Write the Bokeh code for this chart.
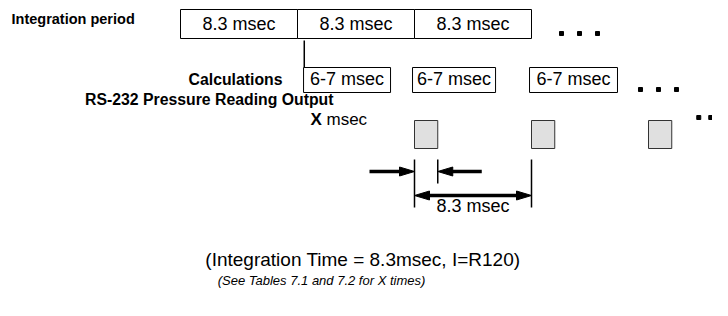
from bokeh.plotting import figure
from bokeh.models import Range1d
from bokeh.core.properties import value
from bokeh.embed import file_html
from bokeh.resources import INLINE

# ---- data (msec) ----
period_ms = 8.3
period_start = [0.0, 8.3, 16.6]
period_labels = ["8.3 msec", "8.3 msec", "8.3 msec"]
calc_start = [8.73, 16.46, 24.76]
calc_end = [14.9, 22.35, 31.0]
calc_labels = ["6-7 msec", "6-7 msec", "6-7 msec"]
out_start = [16.6, 24.9, 33.2]
x_width_ms = 1.65
dim_label = "8.3 msec"
row_labels = ["Integration period", "Calculations", "RS-232 Pressure Reading Output"]
title_text = "(Integration Time = 8.3msec,  I=R120)"
note_text = "(See Tables 7.1 and 7.2 for X times)"

# ---- layout ----
PX = 117 / 8.3            # pixels per msec
ORIGIN = 180              # pixel of t = 0
def ms(px):
    return (px - ORIGIN) / PX

FONT = value("Liberation Sans")
p = figure(width=712, height=300, x_range=Range1d(ms(0), ms(712)), y_range=Range1d(300, 0),
           output_backend="svg", toolbar_location=None, min_border=0,
           x_axis_type=None, y_axis_type=None)
p.grid.visible = False
p.outline_line_color = None
p.background_fill_color = "white"

# integration period boxes
p.quad(left=period_start, right=[s + period_ms for s in period_start], top=9, bottom=38,
       fill_color="white", line_color="black", line_width=1)
p.text(x=[s + period_ms / 2 for s in period_start], y=23, text=period_labels,
       text_font=FONT, text_font_size="18px", text_align="center", text_baseline="middle")

# row labels
p.text(x=[ms(11)], y=[18], text=[row_labels[0]], text_font=FONT, text_font_size="14.5px",
       text_font_style="bold", text_align="left", text_baseline="middle")
p.text(x=[ms(282)], y=[79], text=[row_labels[1]], text_font=FONT, text_font_size="15.8px",
       text_font_style="bold", text_align="right", text_baseline="middle")
p.text(x=[ms(333)], y=[99], text=[row_labels[2]], text_font=FONT, text_font_size="15.8px",
       text_font_style="bold", text_align="right", text_baseline="middle")

# connector line
p.segment(x0=[calc_start[0] + 0.05], y0=[40], x1=[calc_start[0] + 0.05], y1=[67],
          line_color="black", line_width=1.5)

# calculation boxes
p.quad(left=calc_start, right=calc_end, top=67, bottom=92,
       fill_color="white", line_color="black", line_width=1)
p.text(x=[(a + b) / 2 for a, b in zip(calc_start, calc_end)], y=78, text=calc_labels,
       text_font=FONT, text_font_size="18px", text_align="center", text_baseline="middle")

# X msec label
p.text(x=[ms(310)], y=[119], text=["X"], text_font=FONT, text_font_size="17px",
       text_font_style="bold", text_align="left", text_baseline="middle")
p.text(x=[ms(326)], y=[119], text=["msec"], text_font=FONT, text_font_size="17px",
       text_align="left", text_baseline="middle")

# output squares
p.quad(left=out_start, right=[s + x_width_ms for s in out_start], top=120, bottom=148,
       fill_color="#e0e0e0", line_color="#333333", line_width=1)

# continuation dots
gap = 18 / PX
row1 = [period_start[-1] + period_ms + 30 / PX + i * gap for i in range(3)]
row2 = [calc_end[-1] + 23 / PX + i * gap for i in range(3)]
row3 = [out_start[-1] + x_width_ms + 27 / PX + i * (12 / PX) for i in range(3)]
p.scatter(x=row1, y=[33] * 3, marker="square", size=4, color="black")
p.scatter(x=row2, y=[89] * 3, marker="square", size=4, color="black")
p.scatter(x=row3, y=[117] * 3, marker="square", size=4, color="black")

# dimension ticks
t0 = out_start[0]
t1 = out_start[0] + x_width_ms
t2 = out_start[1]
p.segment(x0=[t0, t1, t2], y0=[159, 159, 159], x1=[t0, t1, t2], y1=[207, 183, 207],
          line_color="black", line_width=1.5)

HL = 15 / PX   # head length (msec)
HW = 4.5       # head half width (px)
def head(tip, y, direction):
    base = tip - direction * HL
    return [tip, base, base], [y, y - HW, y + HW]

# X-width arrows (pointing inward)
p.segment(x0=[t0 - 45 / PX, t1 + 44 / PX], y0=[171, 171], x1=[t0 - HL + 0.1, t1 + HL - 0.1], y1=[171, 171],
          line_color="black", line_width=3.5)
# 8.3 msec double arrow
p.segment(x0=[t0 + HL - 0.1], y0=[195], x1=[t2 - HL + 0.1], y1=[195], line_color="black", line_width=3.5)
hx, hy = [], []
for tip, y, d in [(t0, 171, 1), (t1, 171, -1), (t0, 195, -1), (t2, 195, 1)]:
    xs, ys = head(tip, y, d)
    hx.append(xs)
    hy.append(ys)
p.patches(xs=hx, ys=hy, fill_color="black", line_color="black", line_width=1)
p.text(x=[(t0 + t2) / 2], y=[205], text=[dim_label], text_font=FONT, text_font_size="18px",
       text_align="center", text_baseline="middle")

# caption
p.text(x=[ms(365)], y=[259], text=[title_text], text_font=FONT, text_font_size="19px",
       text_align="center", text_baseline="middle")
p.text(x=[ms(321)], y=[280], text=[note_text], text_font=FONT, text_font_size="13px",
       text_font_style="italic", text_align="center", text_baseline="middle")

open("out.html", "w").write(file_html(p, INLINE))
